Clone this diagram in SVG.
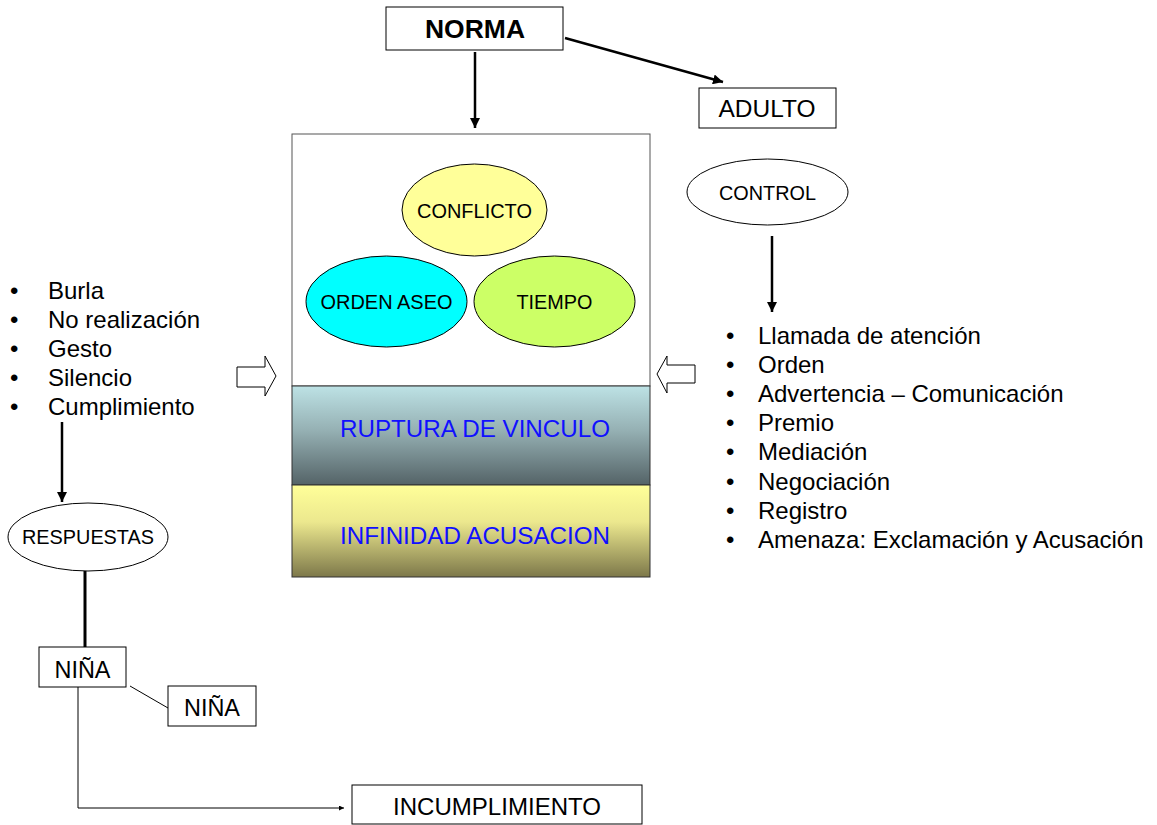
<svg xmlns="http://www.w3.org/2000/svg" width="1157" height="825" viewBox="0 0 1157 825">
  <style>
    text { font-family: "Liberation Sans", Arial, sans-serif; fill: #000; }
    .box { fill: #fff; stroke: #000; stroke-width: 1; }
    .ell { stroke: #000; stroke-width: 1; }
    .lbl { font-size: 21px; text-anchor: middle; }
    .blbl { font-size: 24px; text-anchor: middle; }
    .big { font-size: 24px; }
    .band { font-size: 24px; fill: #1010ff; }
    .thick { stroke: #000; stroke-width: 2.5; fill: none; }
    .thin { stroke: #000; stroke-width: 1; fill: none; }
    .hollow { fill: #fff; stroke: #000; stroke-width: 1; }
  </style>
  <defs>
    <marker id="ah" viewBox="0 0 10 10" refX="10" refY="5" markerWidth="4" markerHeight="4" markerUnits="strokeWidth" orient="auto">
      <path d="M0,0 L10,5 L0,10 z" fill="#000"/>
    </marker>
    <marker id="ahs" viewBox="0 0 10 10" refX="10" refY="5" markerWidth="6" markerHeight="5" markerUnits="strokeWidth" orient="auto">
      <path d="M0,0 L10,5 L0,10 z" fill="#000"/>
    </marker>
    <linearGradient id="gRup" x1="0" y1="0" x2="0" y2="1">
      <stop offset="0" stop-color="#bde2e5"/>
      <stop offset="0.45" stop-color="#95b0b3"/>
      <stop offset="1" stop-color="#546367"/>
    </linearGradient>
    <linearGradient id="gInf" x1="0" y1="0" x2="0" y2="1">
      <stop offset="0" stop-color="#ffff99"/>
      <stop offset="0.4" stop-color="#ece88e"/>
      <stop offset="1" stop-color="#7d784a"/>
    </linearGradient>
  </defs>

  <g id="norma">
    <rect class="box" x="386" y="7" width="177" height="43"/>
    <text x="475" y="38" font-size="25" font-weight="bold" text-anchor="middle" textLength="100" lengthAdjust="spacingAndGlyphs">NORMA</text>
  </g>
  <g id="adulto">
    <rect class="box" x="699" y="88" width="137" height="40"/>
    <text class="blbl" x="767" y="117" textLength="97" lengthAdjust="spacingAndGlyphs">ADULTO</text>
  </g>

  <g id="main-box">
    <rect x="292" y="134" width="358" height="252" fill="#fff" stroke="#555" stroke-width="1"/>
    <rect x="292" y="386" width="358" height="99" fill="url(#gRup)" stroke="#333" stroke-width="1"/>
    <rect x="292" y="485" width="358" height="92" fill="url(#gInf)" stroke="#333" stroke-width="1"/>
  </g>
  <g id="ruptura">
    <text class="band" x="340" y="437" textLength="270" lengthAdjust="spacingAndGlyphs">RUPTURA DE  VINCULO</text>
  </g>
  <g id="infinidad">
    <text class="band" x="340" y="544" textLength="270" lengthAdjust="spacingAndGlyphs">INFINIDAD ACUSACION</text>
  </g>

  <g id="conflicto">
    <ellipse class="ell" cx="474.5" cy="210" rx="72.5" ry="46" fill="#ffff99"/>
    <text class="lbl" x="474.5" y="218" textLength="115" lengthAdjust="spacingAndGlyphs">CONFLICTO</text>
  </g>
  <g id="orden-aseo">
    <ellipse class="ell" cx="386.5" cy="301.5" rx="80.5" ry="45.5" fill="#00ffff"/>
    <text class="lbl" x="386.5" y="309" textLength="132" lengthAdjust="spacingAndGlyphs">ORDEN ASEO</text>
  </g>
  <g id="tiempo">
    <ellipse class="ell" cx="554.5" cy="301.5" rx="80.5" ry="45.5" fill="#ccff66"/>
    <text class="lbl" x="554.5" y="309" textLength="76" lengthAdjust="spacingAndGlyphs">TIEMPO</text>
  </g>

  <g id="control">
    <ellipse class="ell" cx="767.5" cy="192" rx="80.5" ry="33" fill="#fff"/>
    <text class="lbl" x="767.5" y="200" textLength="97" lengthAdjust="spacingAndGlyphs">CONTROL</text>
  </g>

  <g id="lista-control">
    <text class="big" x="726" y="344">•</text><text class="big" x="758" y="344">Llamada de atención</text>
    <text class="big" x="726" y="373">•</text><text class="big" x="758" y="373">Orden</text>
    <text class="big" x="726" y="402">•</text><text class="big" x="758" y="402">Advertencia – Comunicación</text>
    <text class="big" x="726" y="431">•</text><text class="big" x="758" y="431">Premio</text>
    <text class="big" x="726" y="460">•</text><text class="big" x="758" y="460">Mediación</text>
    <text class="big" x="726" y="490">•</text><text class="big" x="758" y="490">Negociación</text>
    <text class="big" x="726" y="519">•</text><text class="big" x="758" y="519">Registro</text>
    <text class="big" x="726" y="548">•</text><text class="big" x="758" y="548">Amenaza: Exclamación y Acusación</text>
  </g>

  <g id="lista-respuestas">
    <text class="big" x="10" y="299">•</text><text class="big" x="48" y="299">Burla</text>
    <text class="big" x="10" y="328">•</text><text class="big" x="48" y="328">No realización</text>
    <text class="big" x="10" y="357">•</text><text class="big" x="48" y="357">Gesto</text>
    <text class="big" x="10" y="386">•</text><text class="big" x="48" y="386">Silencio</text>
    <text class="big" x="10" y="415">•</text><text class="big" x="48" y="415">Cumplimiento</text>
  </g>

  <g id="respuestas">
    <ellipse class="ell" cx="88" cy="537" rx="80" ry="34" fill="#fff"/>
    <text class="lbl" x="88" y="544" textLength="132" lengthAdjust="spacingAndGlyphs">RESPUESTAS</text>
  </g>

  <g id="nina-1">
    <rect class="box" x="39" y="647" width="87" height="40"/>
    <text class="blbl" x="82.5" y="678" textLength="56" lengthAdjust="spacingAndGlyphs">NIÑA</text>
  </g>
  <g id="nina-2">
    <rect class="box" x="168" y="686" width="88" height="40"/>
    <text class="blbl" x="212" y="716" textLength="56" lengthAdjust="spacingAndGlyphs">NIÑA</text>
  </g>
  <g id="incumplimiento">
    <rect class="box" x="352" y="785" width="290" height="39"/>
    <text class="blbl" x="497" y="815" textLength="208" lengthAdjust="spacingAndGlyphs">INCUMPLIMIENTO</text>
  </g>

  <g id="connectors">
    <line class="thick" x1="475" y1="52" x2="475" y2="128" marker-end="url(#ah)"/>
    <line class="thick" x1="565" y1="38" x2="723" y2="82" marker-end="url(#ah)"/>
    <line class="thick" x1="772" y1="236" x2="772" y2="312" marker-end="url(#ah)"/>
    <line class="thick" x1="62" y1="422" x2="62" y2="502" marker-end="url(#ah)"/>
    <line x1="85" y1="571" x2="85" y2="647" stroke="#000" stroke-width="3"/>
    <line class="thin" x1="130" y1="686" x2="168" y2="708"/>
    <polyline class="thin" points="78,687 78,808 344,808" marker-end="url(#ahs)"/>
    <polygon class="hollow" points="237,367 265,367 265,356 276,376 265,396 265,387 237,387"/>
    <polygon class="hollow" points="695,365 667,365 667,356 657,374 667,393 667,383 695,383"/>
  </g>
</svg>
